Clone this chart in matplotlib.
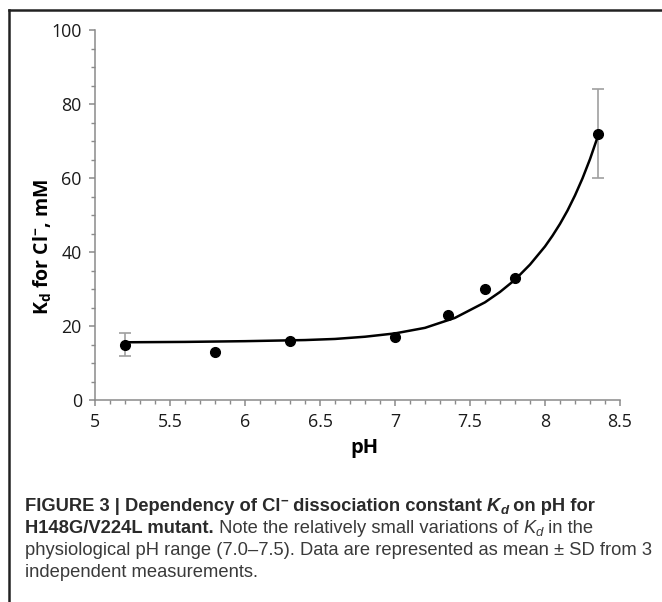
import matplotlib
matplotlib.use("Agg")
import matplotlib.pyplot as plt
from matplotlib.lines import Line2D
from matplotlib.ticker import MultipleLocator

plt.rcParams["mathtext.fontset"] = "custom"
plt.rcParams["mathtext.rm"] = "Open Sans"
plt.rcParams["mathtext.it"] = "Open Sans:italic"
plt.rcParams["mathtext.bf"] = "Open Sans:bold"

# measured data
ph = [5.2, 5.8, 6.3, 7.0, 7.35, 7.6, 7.8, 8.35]
kd = [15, 13, 16, 17, 23, 30, 33, 72]
kd_sd = [3, 0, 0, 0, 0, 0, 0, 12]

# fitted curve
fit_ph = [5.2, 5.6, 6.0, 6.4, 6.6, 6.8, 7.0, 7.2, 7.4, 7.6, 7.7, 7.8, 7.9, 8.0,
          8.05, 8.1, 8.15, 8.2, 8.25, 8.3, 8.35]
fit_kd = [15.6, 15.7, 15.9, 16.2, 16.5, 17.1, 18.0, 19.5, 22.2, 26.4, 29.2, 32.5, 36.6, 41.5,
          44.4, 47.6, 51.2, 55.3, 59.9, 65.1, 71.0]

xticks = [5, 5.5, 6, 6.5, 7, 7.5, 8, 8.5]
xticklabels = ["5", "5.5", "6", "6.5", "7", "7.5", "8", "8.5"]
yticks = [0, 20, 40, 60, 80, 100]

W, H = 662, 602
fig = plt.figure(figsize=(W / 100, H / 100), dpi=100)
fig.patch.set_facecolor("white")

ax = fig.add_axes([95 / W, (H - 400) / H, (620 - 95) / W, 370 / H])
ax.plot(fit_ph, fit_kd, color="black", lw=1.8, zorder=2)
err_ph = [p for p, s in zip(ph, kd_sd) if s > 0]
err_kd = [k for k, s in zip(kd, kd_sd) if s > 0]
err_sd = [s for s in kd_sd if s > 0]
ax.errorbar(err_ph, err_kd, yerr=err_sd, fmt="none", ecolor="#a0a0a0",
            elinewidth=1.2, capsize=4.5, capthick=1.2, zorder=1)
ax.plot(ph, kd, "o", color="black", ms=7, zorder=3)

ax.set_xlim(5, 8.5)
ax.set_ylim(0, 100)
ax.set_xticks(xticks)
ax.set_xticklabels(xticklabels)
ax.set_yticks(yticks)
ax.xaxis.set_minor_locator(MultipleLocator(0.1))
ax.yaxis.set_minor_locator(MultipleLocator(5))
for s in ["top", "right"]:
    ax.spines[s].set_visible(False)
for s in ["left", "bottom"]:
    ax.spines[s].set_color("#8a8a8a")
    ax.spines[s].set_linewidth(1.1)
ax.tick_params(which="major", direction="out", length=4, width=1.1, color="#8a8a8a",
               labelsize=12.8, labelcolor="#1a1a1a", pad=5.5)
ax.tick_params(which="minor", direction="out", length=3, width=1.0, color="#8a8a8a")
for lab in ax.get_xticklabels() + ax.get_yticklabels():
    lab.set_family("Open Sans")

fig.text(364 / W, 1 - 453 / H, "pH", fontsize=14.5, fontweight="bold", family="Open Sans",
         ha="center", va="baseline")
fig.text(42 / W, 1 - 247 / H, r"K$_\mathbf{d}$ for Cl$^\mathbf{-}$, mM", rotation=90,
         fontsize=14, fontweight="bold", family="Open Sans", ha="center", va="center")

# frame lines
fig.add_artist(Line2D([9 / W, 1.0], [1 - 10 / H, 1 - 10 / H], color="#222222", lw=1.8,
                      transform=fig.transFigure))
fig.add_artist(Line2D([9 / W, 9 / W], [1 - 10 / H, 0], color="#222222", lw=1.8,
                      transform=fig.transFigure))

# caption, drawn as runs of text
renderer = fig.canvas.get_renderer()
fam = "Liberation Sans"
fs = 13.2


def width_px(s, **kw):
    t1 = fig.text(0, 0, "|" + s + "|", **kw)
    w1 = t1.get_window_extent(renderer).width
    t1.remove()
    t2 = fig.text(0, 0, "||", **kw)
    w2 = t2.get_window_extent(renderer).width
    t2.remove()
    return w1 - w2


def draw_runs(x_px, base_px, parts):
    x = x_px
    for text, kw, dy in parts:
        fig.text(x / W, 1 - (base_px - dy) / H, text, va="baseline", family=fam, **kw)
        x += width_px(text, family=fam, **kw)


B = dict(fontsize=fs, fontweight="bold", color="#2a2a2a")
BS = dict(fontsize=fs * 0.72, fontweight="bold", color="#2a2a2a")
BI = dict(fontsize=fs, fontweight="bold", fontstyle="italic", color="#2a2a2a")
BIS = dict(fontsize=fs * 0.72, fontweight="bold", fontstyle="italic", color="#2a2a2a")
R = dict(fontsize=fs, color="#3a3a3a")
RI = dict(fontsize=fs, fontstyle="italic", color="#3a3a3a")
RIS = dict(fontsize=fs * 0.72, fontstyle="italic", color="#3a3a3a")

draw_runs(25, 511, [
    ("FIGURE 3 | Dependency of Cl", B, 0),
    ("\u2212", BS, 6),
    (" dissociation constant ", B, 0),
    ("K", BI, 0),
    ("d", BIS, -3),
    (" on pH for", B, 0),
])
draw_runs(25, 533, [
    ("H148G/V224L mutant.", B, 0),
    (" Note the relatively small variations of ", R, 0),
    ("K", RI, 0),
    ("d", RIS, -3),
    (" in the", R, 0),
])
draw_runs(25, 555, [("physiological pH range (7.0\u20137.5). Data are represented as mean \u00b1 SD from 3", R, 0)])
draw_runs(25, 577, [("independent measurements.", R, 0)])

fig.savefig("out.png", dpi=100, facecolor="white")
